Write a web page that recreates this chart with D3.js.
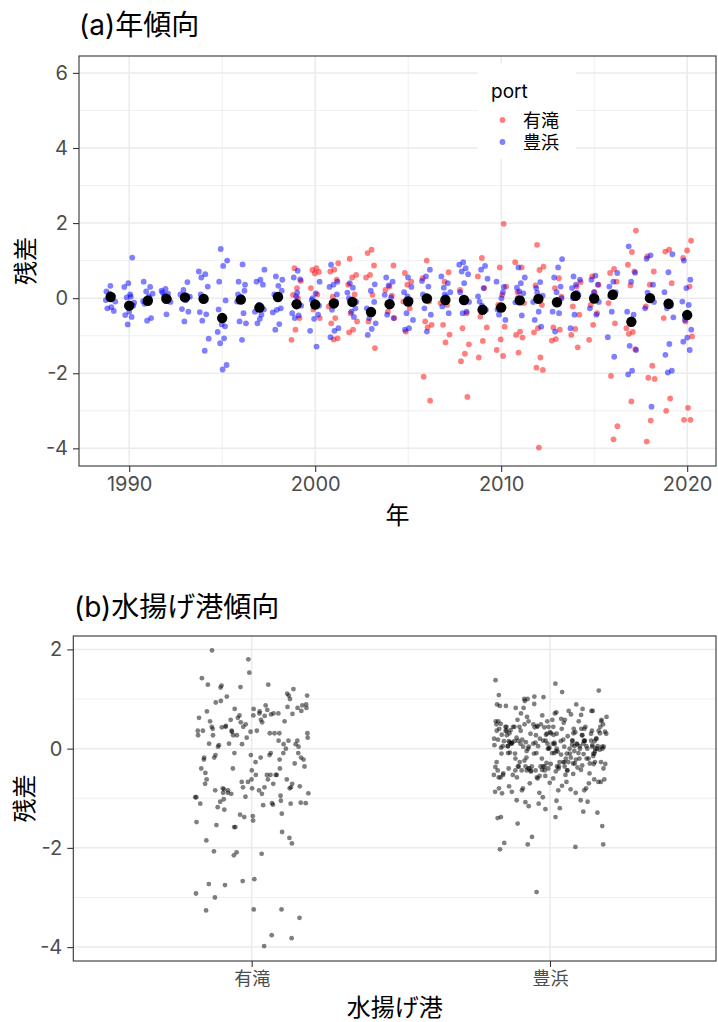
<!DOCTYPE html>
<html><head><meta charset="utf-8">
<script src="https://cdn.jsdelivr.net/npm/d3@7"></script>
<style>
html,body{margin:0;padding:0;background:#fff;}
svg{display:block;font-family:Inter,"Noto Sans CJK JP","Noto Sans",sans-serif;}
</style></head>
<body>
<svg id="chart" width="718" height="1022"></svg>
<script>
// ---------------- DATA ----------------
const ports = ["有滝", "豊浜"];
const portColors = ["#FF0000", "#0000FF"];
const years = d3.range(1989, 2021);
const meanResid = [0.03,-0.20,-0.07,-0.02,0.02,-0.02,-0.53,-0.04,-0.25,0.03,-0.16,-0.17,-0.14,-0.10,-0.37,-0.16,-0.09,-0.01,-0.05,-0.05,-0.31,-0.25,-0.06,-0.02,-0.11,0.06,-0.01,0.09,-0.63,0.00,-0.15,-0.45];

// 豊浜 residuals by year, 1989–2020
const toyohamaResid = [
 [0.33,0.18,0.07,0.0,-0.09,-0.24,-0.27,-0.34,0.12,-0.05],
 [1.08,0.4,0.3,0.04,0.02,-0.2,-0.36,-0.45,-0.5,-0.7,-0.12,0.1],
 [0.44,0.3,0.18,0.12,0.05,-0.15,-0.53,-0.6,-0.08,0.0],
 [0.25,0.2,0.12,0.05,-0.1,-0.43,0.15,-0.02,0.08],
 [0.43,0.22,0.04,-0.05,-0.29,-0.36,-0.62,0.1,0.0],
 [0.71,0.64,0.55,0.31,0.04,-0.37,-0.43,-0.6,-1.08,-1.4,0.1],
 [1.31,1.0,0.86,0.44,-0.06,-0.7,-0.9,-1.07,-1.2,-1.78,-1.9,-0.3,-0.75],
 [0.9,0.44,0.36,0.04,-0.09,-0.4,-0.62,-0.67,-1.11,0.1,0.2],
 [0.76,0.49,0.44,0.36,-0.18,-0.36,-0.44,-0.67,-0.3,-0.55],
 [0.58,0.49,0.33,0.1,-0.27,-0.31,-0.38,-0.69,-0.84,0.2,0.05],
 [0.73,0.55,0.5,0.05,-0.4,-0.46,-0.53,-0.2,0.15],
 [0.44,0.13,-0.05,-0.44,-0.55,-0.87,-1.29,0.0,-0.2],
 [0.89,0.44,0.36,0.3,-0.09,-0.31,-0.8,-0.87,-1.04,0.1],
 [0.28,0.0,-0.27,-0.36,0.15,-0.5,0.4,-0.1],
 [0.37,0.2,-0.27,-0.36,-0.53,-0.67,-0.82,-0.98,-0.1],
 [0.55,0.44,0.34,0.09,0.02,-0.44,-0.53,-0.2],
 [0.55,0.16,-0.05,-0.4,-0.58,-0.8,-0.84,0.3,0.05],
 [0.76,0.58,0.46,0.31,-0.27,-0.44,-0.89,0.1,0.0],
 [0.58,0.4,0.28,0.16,0.04,-0.22,-0.4,0.1],
 [0.96,0.89,0.8,0.71,0.64,0.4,0.16,-0.36,-0.4,-0.1],
 [0.86,0.76,0.52,0.27,-0.09,-0.31,-0.2,0.05],
 [0.44,0.16,-0.44,-0.58,0.0,-0.3,0.3],
 [0.82,0.55,0.4,0.28,0.13,0.18,-0.11,-0.46,0.0],
 [0.43,0.27,0.07,-0.36,-0.58,-0.76,0.15,-0.1],
 [1.04,0.82,0.55,0.31,0.16,-0.36,-0.4,-0.89,0.0],
 [0.58,0.49,0.36,0.27,0.09,-0.44,-0.8,0.15,0.0],
 [0.6,0.49,0.36,0.16,-0.27,-0.44,0.05,-0.1],
 [0.67,0.44,0.31,0.16,-0.36,-1.04,-1.56,0.05],
 [1.38,0.68,0.44,-0.36,-0.44,-1.27,-1.38,-1.93,-2.03],
 [1.14,1.05,0.36,0.04,-0.27,-2.89,0.15,-0.1],
 [1.17,0.69,0.16,-0.2,-0.27,-0.51,-1.22,-1.51,-1.93,-1.98],
 [1.0,0.49,0.27,-0.09,-0.18,-0.58,-0.84,-1.05,-1.16,-1.38]
];

// 有滝 residuals by year, 1999–2020
const aritakiStart = 1999;
const aritakiResid = [
 [0.8,0.46,0.27,0.09,-0.53,-0.84,-1.11,0.0],
 [0.8,0.75,0.7,0.66,0.27,0.1,-0.3,-0.53],
 [0.93,0.76,0.71,0.49,0.04,-0.22,-0.53,-0.67,-1.07,-1.1],
 [1.05,0.62,0.55,0.36,0.1,-0.4,-0.62,-0.84,-0.91],
 [1.29,1.2,0.87,0.62,0.55,0.09,-0.62,-1.33],
 [0.87,0.31,0.22,0.07,-0.36,-0.53],
 [0.67,0.44,0.36,-0.09,-0.27,-0.89],
 [1.0,0.53,-0.09,-0.62,-0.71,-0.78,-2.09,-2.73],
 [0.69,0.44,-0.13,-0.18,-0.71,-0.97,-1.18],
 [0.22,-0.4,-0.8,-1.23,-1.48,-1.68,-2.63],
 [1.07,0.58,0.27,-0.49,-0.78,-1.14,-1.58],
 [1.98,0.82,0.31,0.09,-0.18,-0.76,-1.1,-1.38,-1.54],
 [0.96,0.82,0.16,-0.13,-0.89,-0.98,-1.05,-1.45],
 [1.42,0.84,0.75,0.34,-0.18,-0.8,-0.91,-1.58,-1.85,-1.91,-3.98],
 [0.53,0.27,0.04,-0.09,-0.78,-0.84,-1.09,-1.13],
 [0.43,0.31,-0.22,-0.44,-0.82,-0.98,-1.31],
 [0.58,0.36,0.16,-0.18,-0.4,-0.71,-1.11],
 [0.78,0.67,0.44,0.16,-0.13,-0.67,-2.07,-3.41,-3.76],
 [1.8,1.23,0.89,0.71,0.34,-0.8,-0.9,-0.95,-1.36,-2.75],
 [1.11,0.71,0.36,-0.22,-1.8,-2.12,-2.15,-3.26,-3.82],
 [1.29,1.24,0.4,-0.09,-0.53,-2.67,-3.0],
 [1.53,1.27,1.07,0.31,-0.62,-1.02,-2.92,-3.24,-3.24]
];

const xTicksA = [1990, 2000, 2010, 2020];
const yTicksA = [-4, -2, 0, 2, 4, 6];
const yTicksB = [-4, -2, 0, 2];

// ---------------- BUILD ROWS ----------------
const rows = [];
years.forEach((yr, yi) => {
  const ai = yr - aritakiStart;
  if (ai >= 0 && ai < aritakiResid.length)
    aritakiResid[ai].forEach((v, i) => rows.push({year: yr, port: ports[0], resid: v, i, yi}));
  toyohamaResid[yi].forEach((v, i) => rows.push({year: yr, port: ports[1], resid: v, i: i + 0.5, yi}));
});
// deterministic jitter (low-discrepancy sequence)
const frac = v => v - Math.floor(v);
rows.forEach((d, k) => {
  d.jA = (frac(d.i * 0.6180339887 + d.yi * 0.313 + 0.17) - 0.5) * 2;
  d.jB = (frac(k * 0.7548776662 + 0.5) - 0.5) * 2;
});

const svg = d3.select("#chart");
const gridMajor = "#EBEBEB", tickTextCol = "#4D4D4D", tickCol = "#333333";
const numFmt = d => String(d);

function styleAxis(g, size) {
  g.select(".domain").remove();
  g.selectAll(".tick line").attr("stroke", tickCol).attr("stroke-width", 1.1);
  g.selectAll(".tick text").attr("fill", tickTextCol).attr("font-size", size || 20)
    .attr("font-family", 'Inter,"Noto Sans CJK JP",sans-serif');
}

// ================= PANEL A =================
const A = {l: 79, t: 56, r: 716, b: 466};
const xA = d3.scaleLinear().domain([1987.3, 2021.55]).range([A.l, A.r]);
const yA = d3.scaleLinear().domain([-4.47, 6.45]).range([A.b, A.t]);

svg.append("text").attr("x", 79).attr("y", 35).attr("font-size", 28).attr("fill", "#000").text("(a)年傾向");

const gA = svg.append("g");
gA.append("rect").attr("x", A.l).attr("y", A.t).attr("width", A.r - A.l).attr("height", A.b - A.t).attr("fill", "#fff");
[1995, 2005, 2015].forEach(v => gA.append("line").attr("x1", xA(v)).attr("x2", xA(v)).attr("y1", A.t).attr("y2", A.b).attr("stroke", gridMajor).attr("stroke-width", 0.8));
[-3, -1, 1, 3, 5].forEach(v => gA.append("line").attr("y1", yA(v)).attr("y2", yA(v)).attr("x1", A.l).attr("x2", A.r).attr("stroke", gridMajor).attr("stroke-width", 0.8));
xTicksA.forEach(v => gA.append("line").attr("x1", xA(v)).attr("x2", xA(v)).attr("y1", A.t).attr("y2", A.b).attr("stroke", gridMajor).attr("stroke-width", 1.5));
yTicksA.forEach(v => gA.append("line").attr("y1", yA(v)).attr("y2", yA(v)).attr("x1", A.l).attr("x2", A.r).attr("stroke", gridMajor).attr("stroke-width", 1.5));

// legend background (inside panel)
gA.append("rect").attr("x", 478).attr("y", 63).attr("width", 98).attr("height", 96).attr("fill", "#fff");

const colorA = d3.scaleOrdinal().domain(ports).range(portColors);
gA.append("g").selectAll("circle").data(rows).join("circle")
  .attr("cx", d => xA(d.year + d.jA * 0.28))
  .attr("cy", d => yA(d.resid))
  .attr("r", 2.9)
  .attr("fill", d => colorA(d.port))
  .attr("fill-opacity", 0.5);
gA.append("g").selectAll("circle").data(years).join("circle")
  .attr("cx", d => xA(d))
  .attr("cy", (d, i) => yA(meanResid[i]))
  .attr("r", 5.2).attr("fill", "#000");

gA.append("rect").attr("x", A.l).attr("y", A.t).attr("width", A.r - A.l).attr("height", A.b - A.t)
  .attr("fill", "none").attr("stroke", "#333").attr("stroke-width", 1.1);

const axA = svg.append("g").attr("transform", `translate(0,${A.b})`)
  .call(d3.axisBottom(xA).tickValues(xTicksA).tickFormat(numFmt).tickSize(6).tickPadding(5));
styleAxis(axA);
const ayA = svg.append("g").attr("transform", `translate(${A.l},0)`)
  .call(d3.axisLeft(yA).tickValues(yTicksA).tickFormat(numFmt).tickSize(6).tickPadding(5));
styleAxis(ayA);

svg.append("text").attr("x", (A.l + A.r) / 2).attr("y", 524).attr("text-anchor", "middle").attr("font-size", 24).text("年");
svg.append("text").attr("transform", `translate(34,${(A.t + A.b) / 2}) rotate(-90)`).attr("text-anchor", "middle").attr("font-size", 24).text("残差");

// legend
const lg = svg.append("g");
lg.append("text").attr("x", 491).attr("y", 98).attr("font-size", 19).attr("fill", "#000").text("port");
ports.forEach((p, i) => {
  lg.append("circle").attr("cx", 502.5).attr("cy", 120 + i * 22).attr("r", 2.9).attr("fill", portColors[i]).attr("fill-opacity", 0.5);
  lg.append("text").attr("x", 523).attr("y", 126.5 + i * 22).attr("font-size", 18).attr("fill", "#000").text(p);
});

// ================= PANEL B =================
const B = {l: 73.3, t: 636, r: 716, b: 961};
const xB = d3.scalePoint().domain(ports).range([251.7, 550]);
const unitB = xB(ports[1]) - xB(ports[0]);
const yB = d3.scaleLinear().domain([-4.28, 2.27]).range([B.b, B.t]);

svg.append("text").attr("x", 74).attr("y", 617).attr("font-size", 28).attr("fill", "#000").text("(b)水揚げ港傾向");

const gB = svg.append("g");
[-3, -1, 1].forEach(v => gB.append("line").attr("y1", yB(v)).attr("y2", yB(v)).attr("x1", B.l).attr("x2", B.r).attr("stroke", gridMajor).attr("stroke-width", 0.8));
yTicksB.forEach(v => gB.append("line").attr("y1", yB(v)).attr("y2", yB(v)).attr("x1", B.l).attr("x2", B.r).attr("stroke", gridMajor).attr("stroke-width", 1.5));
ports.forEach(p => gB.append("line").attr("x1", xB(p)).attr("x2", xB(p)).attr("y1", B.t).attr("y2", B.b).attr("stroke", gridMajor).attr("stroke-width", 1.5));

gB.append("g").selectAll("circle").data(rows).join("circle")
  .attr("cx", d => xB(d.port) + d.jB * 0.19 * unitB)
  .attr("cy", d => yB(d.resid))
  .attr("r", 2.4).attr("fill", "#000").attr("fill-opacity", 0.5);

gB.append("rect").attr("x", B.l).attr("y", B.t).attr("width", B.r - B.l).attr("height", B.b - B.t)
  .attr("fill", "none").attr("stroke", "#333").attr("stroke-width", 1.1);

const axB = svg.append("g").attr("transform", `translate(0,${B.b})`)
  .call(d3.axisBottom(xB).tickSize(6).tickPadding(5));
styleAxis(axB, 18);
const ayB = svg.append("g").attr("transform", `translate(${B.l},0)`)
  .call(d3.axisLeft(yB).tickValues(yTicksB).tickFormat(numFmt).tickSize(6).tickPadding(5));
styleAxis(ayB);

svg.append("text").attr("x", (B.l + B.r) / 2).attr("y", 1016).attr("text-anchor", "middle").attr("font-size", 24).text("水揚げ港");
svg.append("text").attr("transform", `translate(33,${(B.t + B.b) / 2}) rotate(-90)`).attr("text-anchor", "middle").attr("font-size", 24).text("残差");
</script>
</body></html>
